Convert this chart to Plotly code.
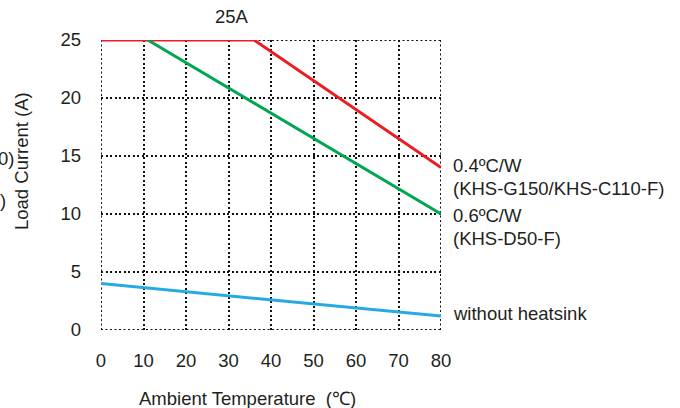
import plotly.graph_objects as go

# Data
red_x = [0, 36, 80]
red_y = [25, 25, 14]
green_x = [11, 80]
green_y = [25, 10]
blue_x = [0, 80]
blue_y = [4.0, 1.2]

x_ticks = [0, 10, 20, 30, 40, 50, 60, 70, 80]
y_ticks = [0, 5, 10, 15, 20, 25]

W, H = 680, 408
L, R, T, B = 101, 239, 40, 78
FONT = "Liberation Sans, Arial, sans-serif"
TXT = "#231f20"
FS = 18.5
DASH = "2px,2.5px"

fig = go.Figure()
fig.add_trace(go.Scatter(x=red_x, y=red_y, mode="lines",
                         line=dict(color="#ed1c24", width=3), hoverinfo="skip"))
fig.add_trace(go.Scatter(x=green_x, y=green_y, mode="lines",
                         line=dict(color="#00a650", width=3), hoverinfo="skip"))
fig.add_trace(go.Scatter(x=blue_x, y=blue_y, mode="lines",
                         line=dict(color="#27aae1", width=3), hoverinfo="skip"))

grid = dict(showgrid=True, gridcolor="#111111", gridwidth=2, griddash=DASH,
            zeroline=False, showline=False, ticks="",
            tickfont=dict(family=FONT, size=FS, color=TXT))
fig.update_xaxes(range=[0, 80], tickvals=x_ticks, ticklabelstandoff=17, **grid)
fig.update_yaxes(range=[0, 25], tickvals=y_ticks, ticklabelstandoff=19, **grid)

# Border (dotted) lines
for xv in [0, 80]:
    fig.add_shape(type="line", x0=xv, x1=xv, y0=0, y1=25, xref="x", yref="y",
                  line=dict(color="#111111", width=2, dash=DASH), layer="below")
for yv in [0, 25]:
    fig.add_shape(type="line", x0=0, x1=80, y0=yv, y1=yv, xref="x", yref="y",
                  line=dict(color="#111111", width=2, dash=DASH), layer="below")

def px_x(p):
    return (p - L) / (W - L - R)

def px_y(p):
    return (H - B - p) / (H - T - B)

ann = []
def text(s, x, y, xanchor="left", size=FS, angle=0):
    ann.append(dict(text=s, x=px_x(x), y=px_y(y), xref="paper", yref="paper",
                    xanchor=xanchor, yanchor="middle", showarrow=False, textangle=angle,
                    font=dict(family=FONT, size=size, color=TXT)))

text("25A", 232, 17, xanchor="center")
text("0.4ºC/W", 451, 165)
text("(KHS-G150/KHS-C110-F)", 451, 188)
text("0.6ºC/W", 451, 215)
text("(KHS-D50-F)", 451, 238)
text("without heatsink", 451, 313)
text("Ambient Temperature  (℃)", 247, 398, xanchor="center")
text("Load Current (A)", 21, 161, xanchor="center", angle=-90)
text("0)", 16, 158, xanchor="right")
text(")", 8, 200, xanchor="right")

fig.update_layout(width=W, height=H, margin=dict(l=L, r=R, t=T, b=B),
                  paper_bgcolor="white", plot_bgcolor="white", showlegend=False,
                  annotations=ann)

fig.write_html("out.html", config={"displayModeBar": False},
               post_script="document.body.style.margin='0';document.body.style.overflow='hidden';")
